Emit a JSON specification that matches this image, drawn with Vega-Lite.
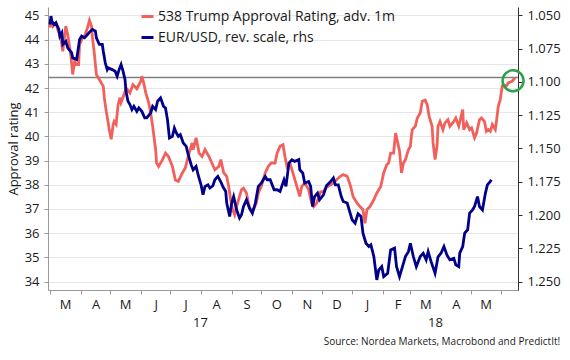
{
  "$schema": "https://vega.github.io/schema/vega-lite/v6.json",
  "width": 470,
  "height": 283,
  "autosize": {"type": "pad"},
  "padding": {"left": 7, "top": 7, "right": 6, "bottom": 6},
  "background": "white",
  "config": {
    "view": {"stroke": null},
    "font": "Open Sans",
    "axis": {"labelColor": "#1a1a1a", "titleColor": "#1a1a1a", "labelFontSize": 13, "titleFontSize": 13, "titleFontWeight": "normal"}
  },
  "title": {"text": "Source: Nordea Markets, Macrobond and PredictIt!", "orient": "bottom", "anchor": "end", "fontSize": 10, "fontWeight": "normal", "offset": 8, "color": "#1a1a1a", "font": "Open Sans"},
  "datasets": {
    "approval": [
      {"d": "2017-03-01", "v": 44.5}, {"d": "2017-03-02", "v": 44.83}, {"d": "2017-03-04", "v": 44.56}, {"d": "2017-03-07", "v": 44.7},
      {"d": "2017-03-09", "v": 44.4}, {"d": "2017-03-12", "v": 44.08}, {"d": "2017-03-14", "v": 43.52}, {"d": "2017-03-17", "v": 44.56},
      {"d": "2017-03-19", "v": 44.2}, {"d": "2017-03-22", "v": 43.4}, {"d": "2017-03-24", "v": 42.56}, {"d": "2017-03-26", "v": 43.1},
      {"d": "2017-03-28", "v": 42.97}, {"d": "2017-03-30", "v": 42.97}, {"d": "2017-03-31", "v": 43.8}, {"d": "2017-04-03", "v": 44.08},
      {"d": "2017-04-05", "v": 44.14}, {"d": "2017-04-08", "v": 44.49}, {"d": "2017-04-10", "v": 44.8}, {"d": "2017-04-12", "v": 44.56},
      {"d": "2017-04-13", "v": 44.1}, {"d": "2017-04-15", "v": 43.4}, {"d": "2017-04-17", "v": 42.56}, {"d": "2017-04-20", "v": 42.35},
      {"d": "2017-04-24", "v": 42.07}, {"d": "2017-04-25", "v": 41.6}, {"d": "2017-04-27", "v": 41.04}, {"d": "2017-04-29", "v": 40.56},
      {"d": "2017-04-30", "v": 40.28}, {"d": "2017-05-02", "v": 39.88}, {"d": "2017-05-04", "v": 40.49}, {"d": "2017-05-05", "v": 40.62},
      {"d": "2017-05-07", "v": 40.5}, {"d": "2017-05-09", "v": 41.31}, {"d": "2017-05-11", "v": 41.6}, {"d": "2017-05-12", "v": 41.4},
      {"d": "2017-05-15", "v": 41.73}, {"d": "2017-05-17", "v": 42.0}, {"d": "2017-05-21", "v": 41.8}, {"d": "2017-05-24", "v": 42.14},
      {"d": "2017-05-28", "v": 41.97}, {"d": "2017-06-01", "v": 42.28}, {"d": "2017-06-02", "v": 42.49}, {"d": "2017-06-04", "v": 42.2},
      {"d": "2017-06-06", "v": 41.8}, {"d": "2017-06-09", "v": 41.4}, {"d": "2017-06-11", "v": 40.97}, {"d": "2017-06-13", "v": 40.42},
      {"d": "2017-06-16", "v": 39.45}, {"d": "2017-06-17", "v": 38.9}, {"d": "2017-06-19", "v": 38.76}, {"d": "2017-06-23", "v": 39.04},
      {"d": "2017-06-26", "v": 39.31}, {"d": "2017-06-29", "v": 39.17}, {"d": "2017-07-03", "v": 38.76}, {"d": "2017-07-06", "v": 38.2},
      {"d": "2017-07-09", "v": 38.14}, {"d": "2017-07-13", "v": 38.49}, {"d": "2017-07-16", "v": 38.69}, {"d": "2017-07-19", "v": 39.17},
      {"d": "2017-07-23", "v": 39.73}, {"d": "2017-07-24", "v": 39.45}, {"d": "2017-07-27", "v": 39.94}, {"d": "2017-07-30", "v": 39.31},
      {"d": "2017-08-02", "v": 39.17}, {"d": "2017-08-05", "v": 39.45}, {"d": "2017-08-09", "v": 39.17}, {"d": "2017-08-12", "v": 38.9},
      {"d": "2017-08-15", "v": 38.62}, {"d": "2017-08-19", "v": 38.76}, {"d": "2017-08-21", "v": 39.04}, {"d": "2017-08-24", "v": 38.49},
      {"d": "2017-08-27", "v": 38.35}, {"d": "2017-08-29", "v": 37.93}, {"d": "2017-08-31", "v": 37.38}, {"d": "2017-09-02", "v": 36.97},
      {"d": "2017-09-04", "v": 36.76}, {"d": "2017-09-06", "v": 37.1}, {"d": "2017-09-09", "v": 37.52}, {"d": "2017-09-11", "v": 37.8},
      {"d": "2017-09-13", "v": 37.86}, {"d": "2017-09-16", "v": 37.66}, {"d": "2017-09-18", "v": 37.24}, {"d": "2017-09-20", "v": 36.97},
      {"d": "2017-09-23", "v": 36.97}, {"d": "2017-09-26", "v": 37.24}, {"d": "2017-09-28", "v": 37.66}, {"d": "2017-10-01", "v": 37.93},
      {"d": "2017-10-05", "v": 38.49}, {"d": "2017-10-08", "v": 38.76}, {"d": "2017-10-11", "v": 38.9}, {"d": "2017-10-15", "v": 38.9},
      {"d": "2017-10-17", "v": 39.31}, {"d": "2017-10-20", "v": 39.59}, {"d": "2017-10-23", "v": 39.66}, {"d": "2017-10-25", "v": 39.17},
      {"d": "2017-10-27", "v": 38.76}, {"d": "2017-10-30", "v": 38.9}, {"d": "2017-11-02", "v": 38.49}, {"d": "2017-11-06", "v": 37.93},
      {"d": "2017-11-09", "v": 37.52}, {"d": "2017-11-11", "v": 37.93}, {"d": "2017-11-14", "v": 38.07}, {"d": "2017-11-18", "v": 37.8},
      {"d": "2017-11-21", "v": 37.24}, {"d": "2017-11-23", "v": 37.1}, {"d": "2017-11-26", "v": 37.24}, {"d": "2017-11-30", "v": 37.7},
      {"d": "2017-12-03", "v": 37.73}, {"d": "2017-12-06", "v": 37.9}, {"d": "2017-12-13", "v": 38.07}, {"d": "2017-12-16", "v": 38.2},
      {"d": "2017-12-20", "v": 38.35}, {"d": "2017-12-23", "v": 38.42}, {"d": "2017-12-27", "v": 38.35}, {"d": "2017-12-30", "v": 38.0},
      {"d": "2018-01-02", "v": 37.52}, {"d": "2018-01-06", "v": 37.24}, {"d": "2018-01-09", "v": 37.1}, {"d": "2018-01-12", "v": 36.97},
      {"d": "2018-01-14", "v": 36.41}, {"d": "2018-01-16", "v": 36.97}, {"d": "2018-01-19", "v": 37.1}, {"d": "2018-01-23", "v": 37.38},
      {"d": "2018-01-26", "v": 37.66}, {"d": "2018-01-30", "v": 37.93}, {"d": "2018-02-02", "v": 38.49}, {"d": "2018-02-05", "v": 38.83},
      {"d": "2018-02-07", "v": 38.9}, {"d": "2018-02-09", "v": 39.31}, {"d": "2018-02-12", "v": 39.31}, {"d": "2018-02-14", "v": 40.14},
      {"d": "2018-02-17", "v": 39.59}, {"d": "2018-02-18", "v": 39.4}, {"d": "2018-02-20", "v": 38.49}, {"d": "2018-02-22", "v": 38.9},
      {"d": "2018-02-24", "v": 39.04}, {"d": "2018-02-27", "v": 39.45}, {"d": "2018-03-01", "v": 39.59}, {"d": "2018-03-02", "v": 40.0},
      {"d": "2018-03-03", "v": 40.28}, {"d": "2018-03-06", "v": 40.42}, {"d": "2018-03-08", "v": 40.76}, {"d": "2018-03-11", "v": 40.97},
      {"d": "2018-03-13", "v": 41.45}, {"d": "2018-03-16", "v": 41.5}, {"d": "2018-03-18", "v": 41.31}, {"d": "2018-03-20", "v": 40.83},
      {"d": "2018-03-23", "v": 40.42}, {"d": "2018-03-24", "v": 39.73}, {"d": "2018-03-26", "v": 39.04}, {"d": "2018-03-28", "v": 39.6},
      {"d": "2018-03-29", "v": 40.42}, {"d": "2018-03-31", "v": 40.62}, {"d": "2018-04-03", "v": 40.28}, {"d": "2018-04-05", "v": 40.56},
      {"d": "2018-04-08", "v": 40.69}, {"d": "2018-04-10", "v": 40.42}, {"d": "2018-04-14", "v": 40.62}, {"d": "2018-04-16", "v": 40.76},
      {"d": "2018-04-19", "v": 40.42}, {"d": "2018-04-21", "v": 40.76}, {"d": "2018-04-23", "v": 41.11}, {"d": "2018-04-24", "v": 40.28},
      {"d": "2018-04-27", "v": 40.56}, {"d": "2018-04-30", "v": 40.28}, {"d": "2018-05-02", "v": 40.35}, {"d": "2018-05-05", "v": 39.94},
      {"d": "2018-05-07", "v": 40.14}, {"d": "2018-05-10", "v": 40.69}, {"d": "2018-05-12", "v": 40.76}, {"d": "2018-05-15", "v": 40.62},
      {"d": "2018-05-17", "v": 40.21}, {"d": "2018-05-19", "v": 40.28}, {"d": "2018-05-21", "v": 40.21}, {"d": "2018-05-23", "v": 40.49},
      {"d": "2018-05-26", "v": 40.28}, {"d": "2018-05-27", "v": 40.56}, {"d": "2018-05-29", "v": 41.24}, {"d": "2018-05-31", "v": 41.52},
      {"d": "2018-06-02", "v": 42.07}, {"d": "2018-06-03", "v": 42.14}, {"d": "2018-06-06", "v": 42.07}, {"d": "2018-06-08", "v": 42.21},
      {"d": "2018-06-12", "v": 42.28}, {"d": "2018-06-15", "v": 42.42}
    ],
    "eurusd": [
      {"d": "2017-03-01", "v": 1.0568}, {"d": "2017-03-02", "v": 1.0505}, {"d": "2017-03-03", "v": 1.0543}, {"d": "2017-03-05", "v": 1.0568},
      {"d": "2017-03-07", "v": 1.0555}, {"d": "2017-03-10", "v": 1.0605}, {"d": "2017-03-11", "v": 1.0656}, {"d": "2017-03-13", "v": 1.063},
      {"d": "2017-03-14", "v": 1.0718}, {"d": "2017-03-17", "v": 1.0694}, {"d": "2017-03-19", "v": 1.0743}, {"d": "2017-03-23", "v": 1.0781},
      {"d": "2017-03-24", "v": 1.0819}, {"d": "2017-03-28", "v": 1.0831}, {"d": "2017-03-31", "v": 1.0681}, {"d": "2017-04-02", "v": 1.0656},
      {"d": "2017-04-05", "v": 1.0668}, {"d": "2017-04-08", "v": 1.0643}, {"d": "2017-04-11", "v": 1.0618}, {"d": "2017-04-13", "v": 1.0605},
      {"d": "2017-04-16", "v": 1.0618}, {"d": "2017-04-17", "v": 1.0668}, {"d": "2017-04-20", "v": 1.0718}, {"d": "2017-04-23", "v": 1.0718},
      {"d": "2017-04-24", "v": 1.0769}, {"d": "2017-04-26", "v": 1.0856}, {"d": "2017-04-28", "v": 1.0907}, {"d": "2017-04-29", "v": 1.0894},
      {"d": "2017-05-03", "v": 1.0907}, {"d": "2017-05-06", "v": 1.0919}, {"d": "2017-05-08", "v": 1.0957}, {"d": "2017-05-10", "v": 1.0907},
      {"d": "2017-05-12", "v": 1.0869}, {"d": "2017-05-14", "v": 1.0919}, {"d": "2017-05-16", "v": 1.0982}, {"d": "2017-05-17", "v": 1.107},
      {"d": "2017-05-19", "v": 1.1145}, {"d": "2017-05-21", "v": 1.117}, {"d": "2017-05-23", "v": 1.1208}, {"d": "2017-05-25", "v": 1.1183},
      {"d": "2017-05-28", "v": 1.1221}, {"d": "2017-05-30", "v": 1.1195}, {"d": "2017-06-02", "v": 1.1221}, {"d": "2017-06-05", "v": 1.127},
      {"d": "2017-06-07", "v": 1.127}, {"d": "2017-06-11", "v": 1.1233}, {"d": "2017-06-13", "v": 1.1183}, {"d": "2017-06-16", "v": 1.1208},
      {"d": "2017-06-18", "v": 1.1145}, {"d": "2017-06-21", "v": 1.112}, {"d": "2017-06-24", "v": 1.1183}, {"d": "2017-06-26", "v": 1.1195},
      {"d": "2017-06-28", "v": 1.1283}, {"d": "2017-06-30", "v": 1.1421}, {"d": "2017-07-03", "v": 1.1409}, {"d": "2017-07-05", "v": 1.1346},
      {"d": "2017-07-07", "v": 1.1383}, {"d": "2017-07-09", "v": 1.1409}, {"d": "2017-07-11", "v": 1.1396}, {"d": "2017-07-14", "v": 1.1459},
      {"d": "2017-07-17", "v": 1.1484}, {"d": "2017-07-19", "v": 1.1547}, {"d": "2017-07-22", "v": 1.1622}, {"d": "2017-07-24", "v": 1.166},
      {"d": "2017-07-27", "v": 1.1635}, {"d": "2017-07-29", "v": 1.1697}, {"d": "2017-08-01", "v": 1.1773}, {"d": "2017-08-03", "v": 1.1848},
      {"d": "2017-08-05", "v": 1.1785}, {"d": "2017-08-08", "v": 1.1773}, {"d": "2017-08-10", "v": 1.1797}, {"d": "2017-08-13", "v": 1.178},
      {"d": "2017-08-15", "v": 1.1735}, {"d": "2017-08-18", "v": 1.171}, {"d": "2017-08-21", "v": 1.175}, {"d": "2017-08-23", "v": 1.1785},
      {"d": "2017-08-26", "v": 1.1823}, {"d": "2017-08-27", "v": 1.191}, {"d": "2017-08-30", "v": 1.2011}, {"d": "2017-09-01", "v": 1.191},
      {"d": "2017-09-03", "v": 1.1861}, {"d": "2017-09-06", "v": 1.1961}, {"d": "2017-09-09", "v": 1.2023}, {"d": "2017-09-11", "v": 1.1998},
      {"d": "2017-09-13", "v": 1.1936}, {"d": "2017-09-16", "v": 1.1886}, {"d": "2017-09-19", "v": 1.1948}, {"d": "2017-09-22", "v": 1.1986},
      {"d": "2017-09-25", "v": 1.191}, {"d": "2017-09-28", "v": 1.1785}, {"d": "2017-10-01", "v": 1.176}, {"d": "2017-10-05", "v": 1.171},
      {"d": "2017-10-07", "v": 1.1735}, {"d": "2017-10-10", "v": 1.1735}, {"d": "2017-10-14", "v": 1.181}, {"d": "2017-10-17", "v": 1.181},
      {"d": "2017-10-20", "v": 1.1823}, {"d": "2017-10-24", "v": 1.1735}, {"d": "2017-10-26", "v": 1.1785}, {"d": "2017-10-29", "v": 1.1609},
      {"d": "2017-11-01", "v": 1.1584}, {"d": "2017-11-04", "v": 1.1597}, {"d": "2017-11-08", "v": 1.1584}, {"d": "2017-11-09", "v": 1.166},
      {"d": "2017-11-12", "v": 1.1684}, {"d": "2017-11-14", "v": 1.176}, {"d": "2017-11-18", "v": 1.1748}, {"d": "2017-11-20", "v": 1.1785},
      {"d": "2017-11-22", "v": 1.1936}, {"d": "2017-11-24", "v": 1.1861}, {"d": "2017-11-27", "v": 1.1835}, {"d": "2017-11-29", "v": 1.1886},
      {"d": "2017-12-03", "v": 1.1848}, {"d": "2017-12-06", "v": 1.178}, {"d": "2017-12-10", "v": 1.175}, {"d": "2017-12-13", "v": 1.1722},
      {"d": "2017-12-15", "v": 1.1773}, {"d": "2017-12-18", "v": 1.1773}, {"d": "2017-12-21", "v": 1.1861}, {"d": "2017-12-23", "v": 1.1898},
      {"d": "2017-12-27", "v": 1.191}, {"d": "2017-12-30", "v": 1.1986}, {"d": "2018-01-01", "v": 1.2036}, {"d": "2018-01-04", "v": 1.2061},
      {"d": "2018-01-07", "v": 1.1991}, {"d": "2018-01-10", "v": 1.2011}, {"d": "2018-01-12", "v": 1.2136}, {"d": "2018-01-15", "v": 1.2212},
      {"d": "2018-01-18", "v": 1.2237}, {"d": "2018-01-20", "v": 1.2224}, {"d": "2018-01-23", "v": 1.2312}, {"d": "2018-01-26", "v": 1.2488},
      {"d": "2018-01-28", "v": 1.2413}, {"d": "2018-01-31", "v": 1.2388}, {"d": "2018-02-02", "v": 1.2463}, {"d": "2018-02-06", "v": 1.2438},
      {"d": "2018-02-09", "v": 1.2262}, {"d": "2018-02-13", "v": 1.2249}, {"d": "2018-02-15", "v": 1.2388}, {"d": "2018-02-18", "v": 1.2463},
      {"d": "2018-02-21", "v": 1.2388}, {"d": "2018-02-24", "v": 1.2312}, {"d": "2018-02-27", "v": 1.2275}, {"d": "2018-03-01", "v": 1.2212},
      {"d": "2018-03-04", "v": 1.2312}, {"d": "2018-03-07", "v": 1.2388}, {"d": "2018-03-11", "v": 1.2312}, {"d": "2018-03-14", "v": 1.2287},
      {"d": "2018-03-17", "v": 1.2337}, {"d": "2018-03-19", "v": 1.2275}, {"d": "2018-03-22", "v": 1.235}, {"d": "2018-03-26", "v": 1.2437},
      {"d": "2018-03-29", "v": 1.2315}, {"d": "2018-04-01", "v": 1.2287}, {"d": "2018-04-04", "v": 1.2237}, {"d": "2018-04-07", "v": 1.23},
      {"d": "2018-04-10", "v": 1.2337}, {"d": "2018-04-14", "v": 1.2325}, {"d": "2018-04-16", "v": 1.2375}, {"d": "2018-04-19", "v": 1.2388},
      {"d": "2018-04-20", "v": 1.2287}, {"d": "2018-04-23", "v": 1.2237}, {"d": "2018-04-25", "v": 1.2136}, {"d": "2018-04-28", "v": 1.2111},
      {"d": "2018-04-30", "v": 1.1986}, {"d": "2018-05-03", "v": 1.1961}, {"d": "2018-05-05", "v": 1.1936}, {"d": "2018-05-08", "v": 1.1861},
      {"d": "2018-05-10", "v": 1.1936}, {"d": "2018-05-13", "v": 1.1961}, {"d": "2018-05-16", "v": 1.1835}, {"d": "2018-05-18", "v": 1.1773},
      {"d": "2018-05-21", "v": 1.1748}, {"d": "2018-05-22", "v": 1.1735}
    ]
  },
  "layer": [
    {
      "data": {"values": [{"v": 42.44}]},
      "mark": {"type": "rule", "color": "#7f7f7f", "strokeWidth": 1.5},
      "encoding": {
        "y": {"field": "v", "type": "quantitative", "scale": {"domain": [33.65, 45.35], "nice": false, "zero": false}, "axis": null}
      }
    },
    {
      "data": {"name": "approval"},
      "mark": {"type": "line", "strokeWidth": 2.8, "interpolate": "linear"},
      "encoding": {
        "x": {
          "field": "d", "type": "temporal",
          "scale": {"type": "utc", "domain": [{"year": 2017, "month": 2, "date": 27, "utc": true}, {"year": 2018, "month": 6, "date": 18, "utc": true}]},
          "axis": {
            "title": null, "grid": false, "orient": "bottom",
            "values": [
              {"year": 2017, "month": 3, "date": 1, "utc": true}, {"year": 2017, "month": 4, "date": 1, "utc": true},
              {"year": 2017, "month": 5, "date": 1, "utc": true}, {"year": 2017, "month": 6, "date": 1, "utc": true},
              {"year": 2017, "month": 7, "date": 1, "utc": true}, {"year": 2017, "month": 8, "date": 1, "utc": true},
              {"year": 2017, "month": 9, "date": 1, "utc": true}, {"year": 2017, "month": 10, "date": 1, "utc": true},
              {"year": 2017, "month": 11, "date": 1, "utc": true}, {"year": 2017, "month": 12, "date": 1, "utc": true},
              {"year": 2018, "month": 1, "date": 1, "utc": true}, {"year": 2018, "month": 2, "date": 1, "utc": true},
              {"year": 2018, "month": 3, "date": 1, "utc": true}, {"year": 2018, "month": 4, "date": 1, "utc": true},
              {"year": 2018, "month": 5, "date": 1, "utc": true}, {"year": 2018, "month": 6, "date": 1, "utc": true}
            ],
            "labelExpr": "(utcmonth(datum.value) == 5 && utcyear(datum.value) == 2018) ? '' : substring(utcFormat(datum.value, '%b'), 0, 1)",
            "labelOffset": 15, "labelAlign": "center", "labelFlush": false, "labelOverlap": false, "labelBound": false,
            "tickSize": 4, "labelPadding": 4, "domainColor": "#999999", "tickColor": "#999999"
          }
        },
        "y": {
          "field": "v", "type": "quantitative",
          "scale": {"domain": [33.65, 45.35], "nice": false, "zero": false},
          "axis": {
            "orient": "left", "title": "Approval rating", "values": [34, 35, 36, 37, 38, 39, 40, 41, 42, 43, 44, 45],
            "grid": true, "gridColor": "#e6e6e6", "domain": true, "domainColor": "#999999", "ticks": true, "tickColor": "#999999",
            "tickSize": 4, "labelPadding": 5, "titlePadding": 4, "labelOverlap": false
          }
        },
        "color": {
          "datum": "538 Trump Approval Rating, adv. 1m", "type": "nominal",
          "scale": {"domain": ["538 Trump Approval Rating, adv. 1m", "EUR/USD, rev. scale, rhs"], "range": ["#f2605c", "#00008b"]},
          "legend": {
            "orient": "none", "legendX": 92, "legendY": 2, "title": null,
            "symbolType": "stroke", "symbolStrokeWidth": 3, "symbolSize": 144,
            "labelFontSize": 14, "labelOffset": 3, "rowPadding": 6, "labelColor": "#1a1a1a", "labelLimit": 400
          }
        }
      }
    },
    {
      "data": {"name": "eurusd"},
      "mark": {"type": "line", "strokeWidth": 2.8, "interpolate": "linear"},
      "encoding": {
        "x": {
          "field": "d", "type": "temporal",
          "axis": {
            "title": null, "grid": false, "orient": "bottom", "domain": false, "ticks": false, "tickSize": 0,
            "values": [{"year": 2017, "month": 7, "date": 31, "utc": true}, {"year": 2018, "month": 3, "date": 26, "utc": true}],
            "labelExpr": "utcFormat(datum.value, '%y')",
            "labelPadding": 26, "labelFlush": false, "labelOverlap": false, "labelBound": false, "labelAlign": "center"
          }
        },
        "y": {
          "field": "v", "type": "quantitative",
          "scale": {"domain": [1.043636, 1.256364], "reverse": true, "nice": false, "zero": false},
          "axis": {
            "orient": "right", "title": null, "grid": false, "format": ".3f",
            "values": [1.05, 1.075, 1.1, 1.125, 1.15, 1.175, 1.2, 1.225, 1.25], "labelOverlap": false,
            "domainColor": "#333333", "tickColor": "#333333", "tickSize": 4, "labelPadding": 5
          }
        },
        "color": {"datum": "EUR/USD, rev. scale, rhs", "type": "nominal"}
      }
    },
    {
      "data": {"values": [{"d": "2018-06-13", "v": 42.3}]},
      "mark": {"type": "point", "shape": "circle", "filled": false, "size": 441, "strokeWidth": 2.5, "color": "#2ca04a", "opacity": 1},
      "encoding": {
        "x": {"field": "d", "type": "temporal", "axis": null},
        "y": {"field": "v", "type": "quantitative", "scale": {"domain": [33.65, 45.35], "nice": false, "zero": false}, "axis": null}
      }
    }
  ],
  "resolve": {"scale": {"y": "independent"}, "axis": {"x": "independent", "y": "independent"}}
}
